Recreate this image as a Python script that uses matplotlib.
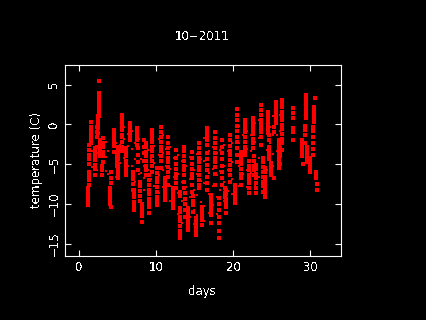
import matplotlib
matplotlib.use("Agg")
import matplotlib.pyplot as plt

title = "10\u22122011"
x_ticks = [0, 10, 20, 30]
y_ticks = [-15, -10, -5, 0, 5]

# one vertical run of readings per entry
days = [1.1, 1.2, 1.3, 1.45, 2.0, 2.3, 2.45, 2.5, 2.55, 2.7, 3.1, 3.0,
        4.0, 4.1, 4.5, 4.9, 5.0, 5.05, 5.5, 5.55, 6.05, 6.0, 6.6, 6.9, 7.05,
        7.5, 7.55, 7.9, 8.1, 8.35,
        8.65, 9.0, 9.45, 10.1, 10.6, 11.1, 11.5, 12.15, 12.55, 13.05, 13.6, 13.7, 14.1,
        14.6, 14.7, 15.15, 15.5, 15.55, 15.9, 16.6, 16.55, 17.1, 17.6, 18.1, 18.5, 19.0, 18.9,
        19.55, 20.2, 20.25, 20.45, 21.0, 21.5, 22.0, 22.55, 22.7, 22.95, 23.6, 23.85,
        24.1, 24.15, 24.5, 24.6, 24.9, 25.55, 25.9, 25.3, 26.3, 26.35, 26.0,
        27.75, 27.8, 28.9, 29.0, 29.4, 29.35, 29.6, 30.0, 30.5, 30.6, 30.35, 30.7, 30.85]
temps = [
    [-8.0, -8.4, -8.8, -9.1, -9.5, -9.8, -10.2],
    [-6.0, -6.5, -7.0, -7.6],
    [-2.6, -3.2, -3.8, -4.4, -5.0],
    [0.3, -0.4, -0.9, -1.3, -1.9, -2.4],
    [-3.0, -3.5, -4.0, -4.5, -5.1, -5.6, -6.4],
    [-0.4, -1.0, -1.6, -2.8],
    [1.0, 0.6, 0.1, -0.5, -1.1],
    [3.9, 3.4, 3.0, 2.5, 2.0, 1.5, 1.0],
    [5.5],
    [-2.0, -2.5, -3.0, -3.5, -4.0],
    [-1.7, -2.3, -2.9, -3.5, -4.0, -4.7],
    [-5.2, -5.8, -6.4],
    [-8.0, -8.4, -8.8, -9.2, -9.6, -10.0],
    [-6.0, -6.7, -7.4, -10.4],
    [-0.7, -1.2, -1.7, -2.2, -2.7, -3.5],
    [-3.5, -4.0, -4.4, -4.9, -5.3],
    [-2.8, -3.3, -3.8, -4.4, -5.0, -5.4],
    [-5.7, -6.2, -6.8],
    [1.2, 0.8, 0.3, -0.2, -0.7, -1.3],
    [-1.6, -2.2, -2.9, -3.4],
    [-3.0, -3.5, -4.0, -4.6, -5.1],
    [-5.4, -5.9, -6.4],
    [0.2, -0.2, -0.7, -1.2, -1.6, -2.0],
    [-6.0, -6.4, -6.9, -7.5, -8.2],
    [-8.2, -8.7, -9.2, -9.8, -10.3, -10.8],
    [-0.5, -1.0, -1.5, -2.0, -2.6],
    [-3.0, -3.9, -4.8, -5.7],
    [-7.3, -7.8, -8.4, -9.0, -9.6],
    [-10.0, -10.5, -11.0, -11.5, -12.3],
    [-2.0, -2.8, -3.6, -4.6],
    [-2.4, -2.9, -3.5, -4.0, -4.6, -5.2, -5.8, -6.4],
    [-6.4, -7.0, -7.6, -8.2, -8.8, -9.4, -9.9, -10.4, -11.2],
    [-0.7, -1.2, -1.7, -2.2, -2.8, -3.4, -4.0, -4.6, -5.2, -6.0],
    [-5.5, -6.1, -6.7, -7.3, -7.9, -8.5, -9.1, -9.6, -10.2],
    [-0.3, -1.0, -1.6, -2.2, -2.8, -3.4, -4.0, -4.6, -5.5],
    [-6.8, -7.2, -7.6, -8.0, -8.5, -9.0, -9.5],
    [-1.6, -2.4, -3.0, -3.6, -4.2, -4.8, -5.4, -6.0, -6.6, -7.6],
    [-8.0, -8.4, -8.8, -9.2, -9.6, -10.0, -10.5],
    [-3.2, -4.2, -5.0, -5.6, -6.2, -6.8, -7.4, -8.0],
    [-8.5, -9.0, -10.5, -11.0, -11.6, -12.2, -12.8, -13.4, -13.9, -14.3],
    [-2.9, -3.4, -4.0, -4.6, -5.2, -5.8, -6.4, -7.2, -8.0],
    [-8.6, -9.4, -10.0, -10.8, -11.6],
    [-10.5, -11.0, -11.5, -12.0, -12.5, -13.0, -13.3],
    [-3.5, -4.2, -5.0, -5.6, -6.2, -6.8, -7.6, -8.5],
    [-9.0, -9.6, -10.2, -11.0],
    [-11.8, -12.2, -12.6, -13.0, -13.4, -13.9],
    [-2.4, -3.0, -3.6, -4.2, -4.8, -5.4],
    [-5.8, -6.4, -7.0, -7.6, -8.0],
    [-10.4, -10.8, -11.2, -11.6, -12.0, -12.7],
    [-0.5, -1.0, -1.5, -2.0, -2.6, -3.6, -4.4],
    [-5.1, -5.8, -6.6, -7.4, -8.2],
    [-8.9, -9.4, -9.9, -10.4, -10.9, -11.4, -12.4],
    [-1.0, -1.7, -2.4, -3.0, -3.6, -4.2, -4.8, -5.4, -6.2, -7.6],
    [-9.3, -10.0, -10.8, -11.6, -12.4, -13.4, -14.3],
    [-2.0, -2.8, -3.6, -4.4, -5.2, -6.0, -6.8, -7.6],
    [-8.3, -8.8, -9.4, -9.9, -10.4, -11.2],
    [-8.0, -8.6, -9.2],
    [-1.3, -2.0, -2.7, -3.3, -3.9, -4.5, -5.1, -5.7, -6.4, -7.3],
    [-7.6, -8.1, -8.6, -9.1],
    [-9.4, -9.9],
    [1.9, 1.2, 0.5, -0.2, -0.9, -1.6, -2.2, -3.0, -3.8, -4.7],
    [-3.5, -4.0, -4.5, -5.0, -5.6, -6.2, -6.8, -7.6],
    [0.5, 0.0, -0.5, -1.0, -1.6, -2.2, -2.8, -3.4, -3.9],
    [-4.6, -5.2, -5.8, -6.4, -6.9, -7.4, -8.0, -8.6],
    [0.8, 0.3, -0.2, -0.7, -1.2, -1.8, -2.4, -3.0],
    [-4.0, -4.6, -5.2, -5.8, -6.4],
    [-5.1, -5.6, -6.2, -6.8, -7.4, -8.0, -8.6],
    [2.4, 1.8, 1.2, 0.6, 0.0, -0.5, -1.0, -1.6, -2.6],
    [-4.2, -4.8, -5.4, -6.0, -6.6, -7.2, -7.8, -8.5],
    [-5.5, -6.0, -6.6, -7.1, -7.7, -8.3, -8.7, -9.1],
    [-7.0, -7.4, -8.0],
    [1.5, 1.0, 0.5, 0.0, -0.5, -1.0],
    [-1.3, -2.0, -2.9, -3.4, -3.9, -4.4],
    [-4.9, -5.4, -5.9, -6.4],
    [2.8, 2.4, 2.0, 1.5, 1.0, 0.6, 0.2],
    [-2.0, -2.5, -3.0, -3.5, -4.0, -4.5, -5.0, -5.5],
    [-0.4, -1.0, -6.8],
    [3.0, 2.6, 2.2, 1.6, 1.0, 0.5, -0.1],
    [-0.6, -1.2, -1.8, -2.4, -3.2],
    [-3.0, -3.5, -4.0, -5.0],
    [2.0, 1.4, 0.8],
    [-0.5, -1.0, -2.0],
    [-2.0, -2.4, -2.9, -3.3, -3.6, -4.0],
    [-5.0],
    [3.7, 3.2, 2.7, 2.2, 1.7, 1.2, 0.8],
    [-0.2, -0.7, -1.4, -2.4],
    [-2.8, -3.3, -3.8, -4.2, -4.7],
    [-4.2, -4.6, -5.0, -5.5, -6.0],
    [2.2, 1.7, 1.2, 0.7, 0.3],
    [3.3],
    [-0.3, -0.9, -1.6, -2.4, -3.1, -3.9],
    [-6.0, -6.4, -6.8],
    [-7.5, -8.3],
]

# the sparse dots between the dense runs
sparse_days = [1.7, 2.25, 3.4, 3.7, 4.7, 5.25, 5.8, 6.3, 6.85, 7.25, 7.75, 8.0,
               8.35, 8.85, 9.25, 9.75, 10.35, 10.85, 11.3, 11.8, 12.35, 12.8, 13.3, 13.85,
               14.35, 14.85, 15.3, 15.75, 16.2, 16.85, 17.35, 17.85, 18.3, 18.75, 19.25, 19.8,
               20.75, 21.25, 21.75, 22.25, 22.8, 23.3, 24.3, 24.75, 25.15, 25.7, 26.1]
sparse_temps = [
    [-1.1, -3.3, -5.4],
    [-3.6, -5.7],
    [-2.2, -4.1, -5.9],
    [-3.4, -6.3],
    [-2.3, -4.7, -6.6],
    [-2.6, -4.9],
    [-0.3, -1.9, -4.3],
    [-1.2, -2.7, -5.2],
    [-0.9, -3.1, -5.3],
    [-2.4, -4.4, -7.2],
    [-1.8, -3.7, -6.3],
    [-4.4, -6.1],
    [-5.2, -6.7, -8.3],
    [-3.2, -5.7, -8.1],
    [-2.1, -4.3, -6.9],
    [-2.7, -4.9, -7.7],
    [-1.9, -3.9, -6.4, -8.6],
    [-1.3, -3.6, -5.8, -7.9],
    [-3.1, -5.2, -8.4],
    [-2.9, -5.6, -7.8, -9.7],
    [-4.3, -6.6, -9.3],
    [-3.8, -6.2, -8.7, -11.3],
    [-4.6, -7.3, -9.6, -12.4],
    [-5.3, -7.9, -10.6],
    [-4.1, -6.9, -9.2, -11.6],
    [-5.7, -8.2, -10.8, -12.6],
    [-3.7, -6.3, -8.9, -11.4],
    [-4.4, -7.1, -9.8],
    [-1.7, -4.6, -7.4, -10.3, -12.2],
    [-3.4, -6.1, -8.8, -11.1],
    [-2.8, -5.6, -7.7, -10.2],
    [-3.6, -6.4, -9.1, -11.3],
    [-3.2, -5.9, -8.2, -10.7],
    [-2.6, -5.2, -7.3, -9.6],
    [-3.3, -5.8, -8.4],
    [-2.3, -4.8, -6.9, -8.8],
    [-0.2, -2.4, -5.3, -7.8],
    [-1.4, -3.6, -6.2],
    [-0.8, -3.1, -5.7, -7.9],
    [-1.3, -3.4, -6.1],
    [0.2, -2.2, -4.9, -7.7],
    [0.6, -1.7, -4.3, -6.6],
    [-1.2, -3.2, -5.7],
    [-0.4, -2.3, -5.6],
    [1.1, -1.3, -3.7, -5.2],
    [1.6, -1.4, -3.3],
    [1.2, -0.8, -3.4, -4.7],
]

# R bitmap device look: black page, thin white box, inward ticks
plt.rcParams["font.family"] = "DejaVu Sans"
plt.rcParams["text.antialiased"] = False
fig = plt.figure(figsize=(4.26, 3.20), dpi=100, facecolor="black")
ax = fig.add_axes([64.5 / 426, 64.5 / 320, 276 / 426, 191 / 320], facecolor="black")

for day, run in zip(days, temps):
    ax.scatter([day] * len(run), run, s=6, marker="s", color="#ff0000", linewidths=0)
for day, run in zip(sparse_days, sparse_temps):
    ax.scatter([day] * len(run), run, s=3.5, marker="s", color="#ff0000", linewidths=0)

ax.set_xlim(-1.935, 33.91)
ax.set_ylim(-16.5, 7.52)
ax.set_xticks(x_ticks)
ax.set_yticks(y_ticks)
ax.tick_params(direction="in", length=4.4, width=0.8, color="white", labelcolor="white",
               labelsize=8.5, top=True, right=True)
ax.tick_params(axis="x", pad=4)
ax.tick_params(axis="y", pad=3)
for label in ax.get_yticklabels():
    label.set_rotation(90)
    label.set_va("center")
for side in ax.spines.values():
    side.set_color("white")
    side.set_linewidth(0.8)

ax.set_xlabel("days", color="white", fontsize=8.5, labelpad=8)
ax.set_ylabel("temperature (C)", color="white", fontsize=8.5, labelpad=3)
fig.text(202 / 426, 1 - 36.5 / 320, title, color="white", fontsize=8.5, ha="center", va="center")

fig.savefig("out.png", dpi=100, facecolor="black")
